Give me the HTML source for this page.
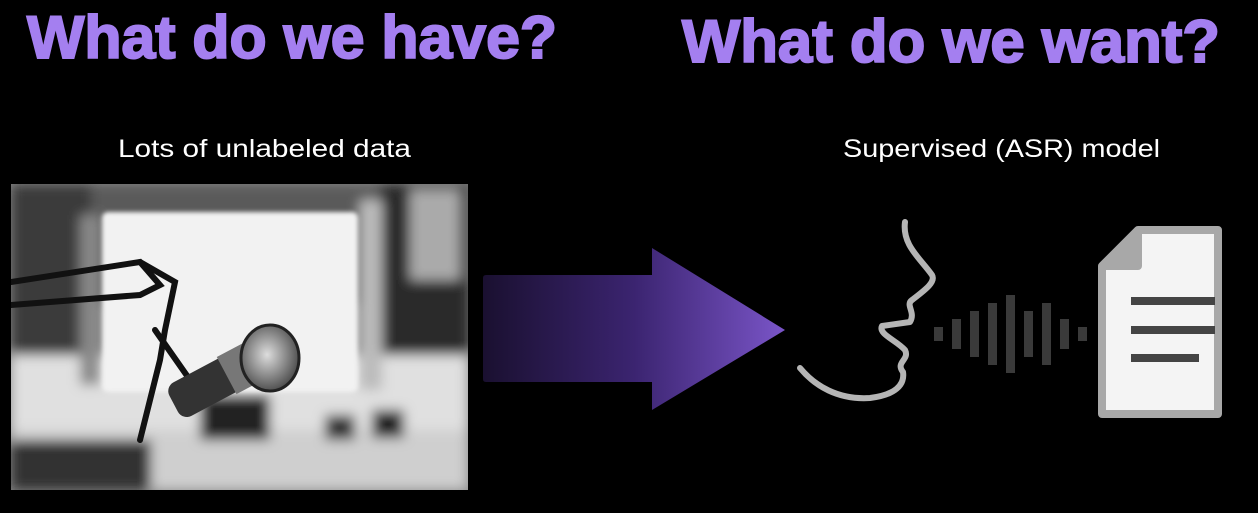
<!DOCTYPE html>
<html><head><meta charset="utf-8">
<style>
html,body{margin:0;padding:0;background:#000;width:1258px;height:513px;overflow:hidden}
svg{display:block}
</style></head>
<body>
<svg id="s" width="1258" height="513" viewBox="0 0 1258 513" xmlns="http://www.w3.org/2000/svg">
<defs>
  <filter id="bl" x="-20%" y="-20%" width="140%" height="140%"><feGaussianBlur stdDeviation="6"/></filter>
  <filter id="bl2"><feGaussianBlur stdDeviation="2"/></filter>
  <linearGradient id="ag" x1="0" x2="1" y1="0" y2="0">
    <stop offset="0" stop-color="#1a1030"/>
    <stop offset="0.5" stop-color="#3b2470"/>
    <stop offset="1" stop-color="#7a55c8"/>
  </linearGradient>
  <clipPath id="pc"><rect x="11" y="184" width="457" height="306"/></clipPath>
  <radialGradient id="mg" cx="0.45" cy="0.45" r="0.6"><stop offset="0" stop-color="#ddd"/><stop offset="1" stop-color="#444"/></radialGradient>
</defs>

<text x="27" y="58" font-family="Liberation Sans, sans-serif" font-weight="bold" font-size="60" fill="#a47ff0" stroke="#a47ff0" stroke-width="2" textLength="530" lengthAdjust="spacingAndGlyphs">What do we have?</text>
<text x="682" y="62" font-family="Liberation Sans, sans-serif" font-weight="bold" font-size="60" fill="#a47ff0" stroke="#a47ff0" stroke-width="2" textLength="538" lengthAdjust="spacingAndGlyphs">What do we want?</text>

<text x="118" y="157" font-family="Liberation Sans, sans-serif" font-size="25" fill="#fff" textLength="293" lengthAdjust="spacingAndGlyphs">Lots of unlabeled data</text>
<text x="843" y="157" font-family="Liberation Sans, sans-serif" font-size="25" fill="#fff" textLength="317" lengthAdjust="spacingAndGlyphs">Supervised (ASR) model</text>

<g clip-path="url(#pc)">
  <rect x="11" y="184" width="457" height="306" fill="#8a8a8a"/>
  <g filter="url(#bl)">
    <rect x="11" y="184" width="457" height="120" fill="#5a5a5a"/>
    <rect x="11" y="184" width="80" height="200" fill="#3a3a3a"/>
    <rect x="380" y="184" width="90" height="306" fill="#2a2a2a"/>
    <rect x="410" y="190" width="50" height="90" fill="#aaa"/>
    <rect x="11" y="355" width="457" height="135" fill="#e0e0e0"/>
    <rect x="11" y="430" width="457" height="60" fill="#cfcfcf"/>
    <rect x="80" y="215" width="20" height="170" fill="#888"/>
    <rect x="360" y="200" width="22" height="190" fill="#bbb"/>
    <rect x="200" y="395" width="70" height="45" fill="#222"/>
    <rect x="372" y="410" width="32" height="28" fill="#222"/>
    <rect x="325" y="415" width="30" height="25" fill="#333"/>
    <rect x="11" y="440" width="140" height="50" fill="#333"/>
  </g>
  <rect x="102" y="212" width="256" height="180" rx="6" fill="#f2f2f2" filter="url(#bl2)"/>
  <g stroke="#111" stroke-width="6" fill="none" stroke-linecap="round">
    <path d="M11 282 L140 262 L160 285 L140 295 L11 305"/>
    <path d="M140 262 L175 282 L165 330 L160 360 L140 440"/>
    <path d="M155 330 L190 380 L215 395"/>
  </g>
  <g transform="rotate(-28 235 370)">
    <rect x="165" y="352" width="110" height="38" rx="10" fill="#333"/>
    <rect x="225" y="350" width="30" height="42" fill="#777"/>
  </g>
  <ellipse cx="270" cy="358" rx="29" ry="33" fill="url(#mg)" stroke="#222" stroke-width="3"/>
</g>

<g>
  <path d="M483 278 Q483 275 486 275 L652 275 L652 248 L785 330 L652 410 L652 382 L486 382 Q483 382 483 379 Z" fill="url(#ag)"/>
</g>

<g fill="none" stroke="#b5b5b5" stroke-width="6" stroke-linecap="round" stroke-linejoin="round">
  <path d="M905 222 C902 245 920 258 932 275 C936 282 925 290 912 300 C905 305 916 312 910 322 L882 326 C878 334 896 340 905 350 C910 360 895 362 903 372 C905 385 895 395 870 398 C838 400 815 386 800 368"/>
</g>
<g id="wave"></g>

<g>
  <path d="M1138 230 L1218 230 L1218 414 L1102 414 L1102 266 Z" fill="#f4f4f4" stroke="#a8a8a8" stroke-width="8" stroke-linejoin="round"/>
  <path d="M1102 266 L1138 266 L1138 230" fill="#a8a8a8" stroke="#a8a8a8" stroke-width="8" stroke-linejoin="round"/>
  <rect x="1131" y="297" width="84" height="8" fill="#444"/>
  <rect x="1131" y="326" width="84" height="8" fill="#444"/>
  <rect x="1131" y="354" width="68" height="8" fill="#444"/>
</g>
</svg>
<script>
const waveHeights = [14, 30, 46, 62, 78, 46, 62, 30, 14];
const g = document.getElementById('wave');
const x0 = 934, step = 18, cy = 334, w = 9;
waveHeights.forEach((h, i) => {
  const r = document.createElementNS('http://www.w3.org/2000/svg', 'rect');
  r.setAttribute('x', x0 + i * step);
  r.setAttribute('y', cy - h / 2);
  r.setAttribute('width', w);
  r.setAttribute('height', h);
  r.setAttribute('fill', '#3a3a3a');
  
  
  g.appendChild(r);
});
</script>
</body></html>
